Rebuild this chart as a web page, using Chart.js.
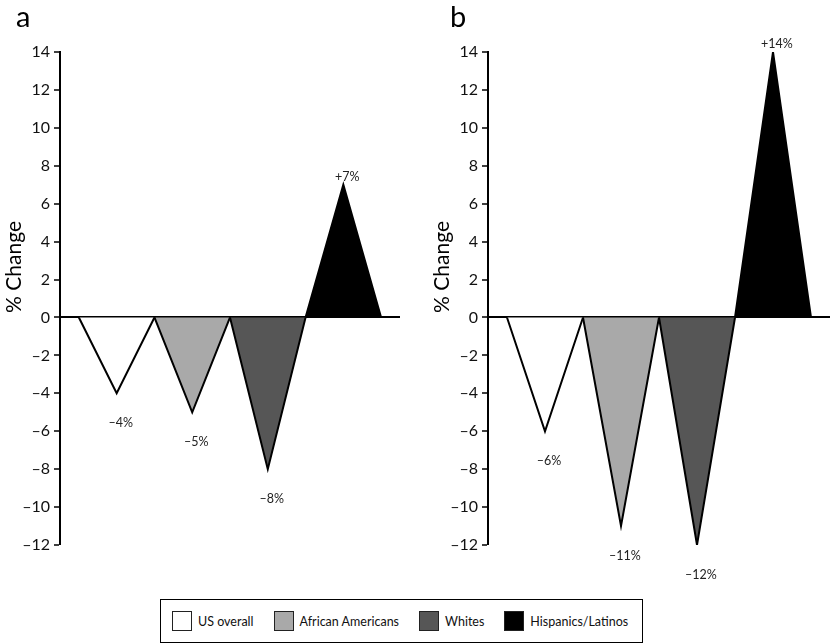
<!DOCTYPE html>
<html>
<head>
<meta charset="utf-8">
<script src="https://cdn.jsdelivr.net/npm/chart.js@4"></script>
<style>
  html, body { margin: 0; padding: 0; background: #fff; }
  body { width: 832px; height: 643px; position: relative; overflow: hidden; font-family: Lato, sans-serif; }
  #panelA { position: absolute; left: 0; top: 0; }
  #panelB { position: absolute; left: 428px; top: 0; }
  #legend {
    position: absolute; left: 160px; top: 599px; width: 483px; height: 44px;
    box-sizing: border-box; border: 1.5px solid #000;
    display: flex; align-items: center; padding-left: 11px; gap: 20px;
    font-size: 12.5px; color: #111; white-space: nowrap;
  }
  .item { display: flex; align-items: center; gap: 6px; flex-shrink: 0; }
  .swatch { width: 20px; height: 20px; box-sizing: border-box; border: 1.5px solid #222; flex-shrink: 0; }
</style>
</head>
<body>
<canvas id="panelA" width="416" height="595"></canvas>
<canvas id="panelB" width="404" height="595"></canvas>
<div id="legend"></div>

<script>
// groups and % change per panel
const categories = ['US overall', 'African Americans', 'Whites', 'Hispanics/Latinos'];
const changeA = [-4, -5, -8, 7];
const changeB = [-6, -11, -12, 14];
const fills = ['#ffffff', '#a9a9a9', '#565656', '#000000'];
const yTicks = { min: -12, max: 14, step: 2 };

const MINUS = '\u2013';
const FONT = 'Lato, sans-serif';

function pctLabel(v) {
  return (v > 0 ? '+' : MINUS) + Math.abs(v) + '%';
}

// decorations: panel letter, rotated axis title, value labels
function decorPlugin(letter, letterX) {
  return {
    id: 'decor',
    afterDatasetsDraw(chart) {
      const ctx = chart.ctx;
      ctx.save();
      ctx.fillStyle = '#000';
      ctx.font = '29px ' + FONT;
      ctx.textAlign = 'left';
      ctx.textBaseline = 'alphabetic';
      ctx.fillText(letter, letterX, 27);

      ctx.save();
      ctx.translate(14, 267);
      ctx.rotate(-Math.PI / 2);
      ctx.font = '21px ' + FONT;
      ctx.textAlign = 'center';
      ctx.textBaseline = 'middle';
      ctx.fillText('% Change', 0, 0);
      ctx.restore();

      ctx.font = '12.5px ' + FONT;
      ctx.fillStyle = '#222';
      ctx.textAlign = 'center';
      ctx.textBaseline = 'middle';
      chart.data.datasets.forEach((ds, i) => {
        const apex = chart.getDatasetMeta(i).data[1];
        const v = ds.data[1].y;
        const y = v < 0 ? apex.y + 30 : apex.y - 8;
        ctx.fillText(pctLabel(v), apex.x + 4, y);
      });
      ctx.restore();
    }
  };
}

function makePanel(id, values, letter, letterX, padRight) {
  const datasets = categories.map((name, i) => ({
    label: name,
    data: [{ x: i, y: 0 }, { x: i + 0.5, y: values[i] }, { x: i + 1, y: 0 }],
    borderColor: '#000',
    borderWidth: 2,
    backgroundColor: fills[i],
    fill: 'origin',
    pointRadius: 0,
    tension: 0
  }));

  return new Chart(document.getElementById(id), {
    type: 'line',
    data: { datasets },
    options: {
      responsive: false,
      devicePixelRatio: 1,
      animation: false,
      layout: { padding: { left: 0, right: padRight, top: 52, bottom: 50 } },
      plugins: { legend: { display: false }, tooltip: { enabled: false } },
      scales: {
        x: { type: 'linear', min: -0.25, max: 4.25, display: false },
        y: {
          min: yTicks.min,
          max: yTicks.max,
          afterFit(scale) { scale.width = 60; },
          border: { display: true, color: '#000', width: 2 },
          grid: {
            color: c => (c.tick && c.tick.value === 0 ? '#000' : 'rgba(0,0,0,0)'),
            lineWidth: c => (c.tick && c.tick.value === 0 ? 2 : 0),
            tickColor: '#000',
            tickWidth: 1.5,
            tickLength: 6
          },
          ticks: {
            stepSize: yTicks.step,
            padding: 4,
            color: '#111',
            font: { family: FONT, size: 16 },
            callback: v => (v < 0 ? MINUS + Math.abs(v) : String(v))
          }
        }
      }
    },
    plugins: [decorPlugin(letter, letterX)]
  });
}

makePanel('panelA', changeA, 'a', 16, 16);
makePanel('panelB', changeB, 'b', 22, 2);

// legend
const legend = document.getElementById('legend');
categories.forEach((name, i) => {
  const item = document.createElement('div');
  item.className = 'item';
  const sw = document.createElement('div');
  sw.className = 'swatch';
  sw.style.background = fills[i];
  const txt = document.createElement('span');
  txt.textContent = name;
  item.appendChild(sw);
  item.appendChild(txt);
  legend.appendChild(item);
});
</script>
</body>
</html>
